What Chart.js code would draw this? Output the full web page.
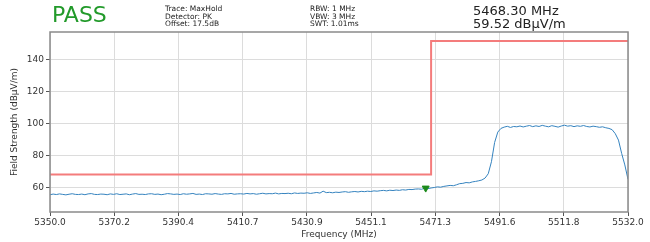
<!DOCTYPE html>
<html>
<head>
<meta charset="utf-8">
<script src="https://cdn.jsdelivr.net/npm/chart.js@4.4.1/dist/chart.umd.min.js"></script>
<style>
  html,body{margin:0;padding:0;background:#fff;}
  #wrap{position:relative;width:650px;height:242px;font-family:"DejaVu Sans",sans-serif;color:#222;}
  #wrap canvas{position:absolute;left:0;top:0;}
  .hd{position:absolute;white-space:pre;}
  #pass{left:52px;top:2px;font-size:22px;color:#229a2a;}
  .small{font-size:7.5px;line-height:7.6px;top:5px;}
  #info1{left:165px;}
  #info2{left:310px;}
  #mk{left:473px;top:4px;font-size:13px;line-height:13px;}
</style>
</head>
<body>
<div id="wrap">
  <canvas id="ch" width="650" height="242"></canvas>
  <div class="hd" id="pass">PASS</div>
  <div class="hd small" id="info1">Trace: MaxHold
Detector: PK
Offset: 17.5dB</div>
  <div class="hd small" id="info2">RBW: 1 MHz
VBW: 3 MHz
SWT: 1.01ms</div>
  <div class="hd" id="mk">5468.30 MHz
59.52 dBµV/m</div>
</div>
<script>
// sweep bins: 1 MHz spacing starting at 5350 MHz
const traceStart = 5350;
const traceStep = 1;
const traceLevels = [
  55.4,55.8,55.5,55.9,55.6,55.3,55.7,56.0,55.6,55.5,55.8,55.4,55.9,56.1,55.6,55.5,55.8,55.7,55.4,55.9,
  55.6,56.0,55.5,55.7,55.9,55.4,55.8,56.1,55.6,55.7,55.5,55.9,56.0,55.6,55.8,55.4,55.7,56.1,55.9,55.6,
  55.8,55.5,56.0,55.7,55.9,56.2,55.6,55.8,55.5,56.0,55.9,55.7,56.1,55.8,55.6,56.0,55.9,56.2,55.7,55.9,
  56.0,55.8,56.2,55.9,56.1,55.7,56.0,56.3,55.9,56.1,56.0,56.4,55.9,56.2,56.1,56.3,56.0,56.5,56.2,56.4,
  56.3,56.6,56.2,56.5,56.8,56.4,57.6,56.7,56.9,56.6,57.0,56.8,57.1,57.3,56.9,57.2,57.4,57.1,57.5,57.3,
  57.6,57.4,57.8,57.6,57.9,58.1,57.8,58.2,58.0,58.3,58.1,58.5,58.3,58.7,58.6,58.9,59.0,58.8,59.5,59.2,
  59.6,59.9,60.3,60.1,60.6,60.9,61.2,61.0,61.6,62.3,62.5,63.0,62.8,63.4,63.7,64.1,64.6,65.8,68.5,76.0,
  88.0,94.5,96.8,
  97.6,98.1,97.4,98.0,97.8,98.3,97.7,98.2,98.6,97.9,98.4,98.0,98.7,98.2,97.8,98.5,98.1,97.6,98.3,98.8,
  98.2,98.5,97.9,98.4,98.1,98.6,98.0,97.7,98.2,97.9,97.5,97.8,97.2,96.8,
  96.0,93.5,89.5,81.2,74.0,65.0
];
const limitFreqs = [5350, 5470, 5470, 5532];
const limitLevels = [68.0, 68.0, 151.4, 151.4];
const markerFreq = [5468.3];
const markerLevel = [59.52];
const xTicks = [5350.0, 5370.2, 5390.4, 5410.7, 5430.9, 5451.1, 5471.3, 5491.6, 5511.8, 5532.0];
const yTicks = [60, 80, 100, 120, 140];

const tracePts = traceLevels.map((v,i) => ({ x: traceStart + i*traceStep, y: v }));
const limitPts = limitFreqs.map((f,i) => ({ x: f, y: limitLevels[i] }));
const markerPts = markerFreq.map((f,i) => ({ x: f, y: markerLevel[i] }));

const frame = {
  id: 'frame',
  afterDraw(c) {
    const a = c.chartArea, ctx = c.ctx;
    ctx.save();
    ctx.strokeStyle = '#8a8a8a'; ctx.lineWidth = 1.5;
    ctx.strokeRect(a.left, a.top, a.right - a.left, a.bottom - a.top);
    ctx.restore();
  }
};

const tickFont = { family: 'DejaVu Sans', size: 9 };

new Chart(document.getElementById('ch'), {
  type: 'line',
  data: { datasets: [
    { label: 'marker', data: markerPts, showLine: false, pointStyle: 'triangle', rotation: 180,
      pointRadius: 4, backgroundColor: '#1b8a1b', borderColor: '#1b8a1b', borderWidth: 1 },
    { label: 'trace', data: tracePts, borderColor: '#3583bf', borderWidth: 1, pointRadius: 0, tension: 0 },
    { label: 'limit', data: limitPts, borderColor: '#f47c7c', borderWidth: 2, pointRadius: 0, tension: 0 },
  ] },
  options: {
    responsive: false, animation: false,
    layout: { padding: { top: 32, right: 22, left: 0, bottom: 0 } },
    plugins: { legend: { display: false }, tooltip: { enabled: false } },
    scales: {
      x: { type: 'linear', min: 5350, max: 5532,
        afterFit(s) { s.height = 30; },
        afterBuildTicks(s) { s.ticks = xTicks.map(v => ({ value: v })); },
        ticks: { font: tickFont, color: '#333', padding: 1, maxRotation: 0, autoSkip: false,
          callback: v => v.toFixed(1) },
        grid: { color: '#dcdcdc', tickColor: '#555', tickLength: 4 },
        border: { display: false },
        title: { display: true, text: 'Frequency (MHz)', font: { family: 'DejaVu Sans', size: 9 }, color: '#333',
          padding: { top: 0, bottom: 2 } } },
      y: { min: 44.6, max: 157,
        afterFit(s) { s.width = 50; },
        afterBuildTicks(s) { s.ticks = yTicks.map(v => ({ value: v })); },
        ticks: { font: tickFont, color: '#333', padding: 2 },
        grid: { color: '#dcdcdc', tickColor: '#555', tickLength: 4 },
        border: { display: false },
        title: { display: true, text: 'Field Strength (dBµV/m)', font: { family: 'DejaVu Sans', size: 9 }, color: '#333',
          padding: { top: 9, bottom: 0 } } },
    },
  },
  plugins: [frame],
});
</script>
</body>
</html>
